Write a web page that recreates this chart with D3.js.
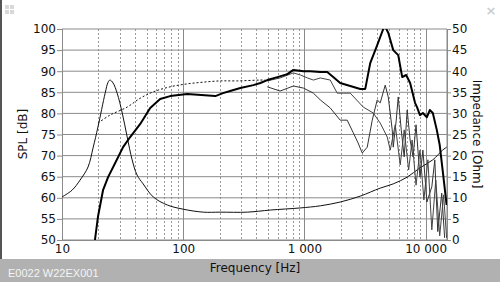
<!DOCTYPE html>
<html>
<head>
<meta charset="utf-8">
<script src="https://cdn.jsdelivr.net/npm/d3@7"></script>
<style>
  html, body { margin: 0; padding: 0; background: #fff; }
  svg { display: block; font-family: "DejaVu Sans", sans-serif; }
</style>
</head>
<body>
<div id="chart"></div>
<script>
// Eixos
const freqTicks = [10, 100, 1000, 10000];
const freqLabels = ["10", "100", "1 000", "10 000"];
const splTicks = [50, 55, 60, 65, 70, 75, 80, 85, 90, 95, 100];
const ohmTicks = [0, 5, 10, 15, 20, 25, 30, 35, 40, 45, 50];

// SPL on-axis (thick)
const onAxisFreq = [18.7, 19.8, 21.8, 24, 27.4, 31.9, 36.5, 44.2, 53.4, 64.5, 78, 108, 184, 213, 244, 296, 379, 433, 494, 598, 723, 811, 981, 1118, 1351, 1542, 1728, 1972, 2387, 2887, 3175, 3489, 3985, 4469, 4640, 4914, 5403, 5939, 6406, 6907, 7445, 8172, 8487, 8975, 9489, 10236, 10825, 11455, 12353, 13061, 13800, 14893];
const onAxisSpl = [50, 55.5, 61.8, 64.9, 68.2, 72, 74.4, 77.5, 81.3, 83.4, 84.1, 84.6, 84.1, 84.8, 85.3, 86, 86.7, 87.2, 87.9, 88.6, 89.3, 90.3, 90, 90, 89.8, 89.8, 88.6, 87.2, 86.5, 85.8, 85.8, 91.9, 96.2, 100, 100.5, 99.1, 95, 93.8, 88.6, 89.1, 87.2, 82.5, 81.5, 79.6, 80.1, 79.1, 80.8, 80.1, 76.1, 72.5, 66.6, 58.3];

// SPL 30 graus
const off30Freq = [494, 630, 811, 926, 1059, 1186, 1351, 1632, 1863, 2087, 2387, 3056, 3694, 4221, 4821, 5103, 5611, 6169, 6652, 7240, 7730, 8330, 8975, 9670, 10430, 11241, 12120, 13061, 14070, 14893];
const off30Spl = [87.7, 88.4, 89.6, 89.1, 88.4, 87.9, 88.4, 87.9, 84.8, 84.8, 84.8, 81.5, 80.1, 77.7, 74.4, 71.3, 77.3, 67.8, 76.1, 66.6, 73.7, 63, 71.3, 59.5, 69, 52.4, 64.2, 51, 60.7, 50.5];

// SPL 60 graus
const off60Freq = [494, 630, 811, 981, 1186, 1351, 1632, 1972, 2252, 2528, 2770, 2999, 3297, 3625, 3985, 4221, 4640, 4914, 5300, 5403, 5720, 5939, 6290, 6652, 7040, 7445, 7873, 8330, 8975, 9489, 10236, 11241, 11897, 12580, 13566, 14342];
const off60Spl = [86.3, 85.3, 86.5, 86, 84.8, 83.2, 81.3, 78.4, 78.4, 75.4, 73, 70.6, 72, 78.4, 83.2, 82.5, 86.7, 83.9, 76.1, 72, 78.4, 83.9, 76.1, 69.7, 80.8, 73.7, 69.7, 77.3, 64.9, 71.3, 59, 62.6, 69, 52, 61.1, 50.5];

// SPL simulado (tracejado)
const simFreq = [19.8, 24.9, 34.5, 44.2, 56.6, 78, 108, 146, 202, 279, 433, 476];
const simSpl = [77.7, 79.6, 81.5, 83.6, 85.1, 86.3, 87, 87.4, 87.7, 87.7, 87.9, 87.9];

// Impedância
const impFreq = [10, 12.1, 14.1, 16.4, 18.1, 19.8, 22.7, 24, 24.9, 26.4, 28.5, 31.4, 34.5, 37.9, 41.6, 46.7, 56.6, 73.8, 100, 146, 202, 337, 523, 926, 1351, 1972, 2887, 4221, 5403, 7040, 8975, 11455, 13800, 14893];
const impOhm = [10.2, 11.8, 14.2, 17.3, 22, 26.8, 34.8, 37.4, 37.9, 37.2, 34.8, 30.1, 24.4, 19, 15.4, 13.3, 10.2, 8.3, 7.3, 6.6, 6.6, 6.6, 7.1, 7.6, 8.1, 9, 10.4, 12.3, 13.3, 14.9, 17.1, 19, 21.3, 22];

// ––––––––––––––––––––––––––––––––––––––––––––––––––––––––––––––

const width = 500, height = 282;
const plot = { left: 62, right: 447, top: 29, bottom: 240 };

const svg = d3.select("#chart").append("svg").attr("width", width).attr("height", height);

const x = d3.scaleLog().domain([10, 15000]).range([plot.left, plot.right]);
const yL = d3.scaleLinear().domain([50, 100]).range([plot.bottom, plot.top]);
const yR = d3.scaleLinear().domain([0, 50]).range([plot.bottom, plot.top]);

// Barra inferior
svg.append("rect").attr("x", 0).attr("y", 259).attr("width", width).attr("height", height - 259).attr("fill", "#b1b1b1");
svg.append("rect").attr("x", 0).attr("y", 0).attr("width", 2).attr("height", 259).attr("fill", "#555");

// Ícones da janela
const icon = svg.append("g").attr("fill", "#d8d8d8");
[[5, 5], [10, 5], [5, 10], [10, 10]].forEach(p => icon.append("rect").attr("x", p[0]).attr("y", p[1]).attr("width", 4).attr("height", 4));
svg.append("text").attr("x", 491).attr("y", 15).attr("text-anchor", "middle").attr("fill", "#ccc")
  .style("font-size", "13px").style("font-weight", "bold").text("×");

// Grelha vertical
const minor = [];
[10, 100, 1000].forEach(d => { for (let k = 2; k <= 9; k++) minor.push(d * k); });
svg.append("g").selectAll("line").data(minor.filter(f => f < 15000)).join("line")
  .attr("x1", d => Math.round(x(d)) + 0.5).attr("x2", d => Math.round(x(d)) + 0.5)
  .attr("y1", plot.top).attr("y2", plot.bottom)
  .attr("stroke", "#9a9a9a").attr("stroke-dasharray", "2,2");
svg.append("g").selectAll("line").data(freqTicks).join("line")
  .attr("x1", d => Math.round(x(d)) + 0.5).attr("x2", d => Math.round(x(d)) + 0.5)
  .attr("y1", plot.top).attr("y2", plot.bottom)
  .attr("stroke", "#8a8a8a");

// Grelha horizontal
svg.append("g").selectAll("line").data(splTicks).join("line")
  .attr("x1", plot.left).attr("x2", plot.right)
  .attr("y1", d => yL(d)).attr("y2", d => yL(d))
  .attr("stroke", "#8a8a8a");
svg.append("line").attr("x1", plot.right).attr("x2", plot.right).attr("y1", plot.top).attr("y2", plot.bottom).attr("stroke", "#8a8a8a");

// Eixos
const axL = svg.append("g").attr("transform", `translate(${plot.left},0)`)
  .call(d3.axisLeft(yL).tickValues(splTicks).tickSize(5).tickPadding(1));
const axR = svg.append("g").attr("transform", `translate(${plot.right},0)`)
  .call(d3.axisRight(yR).tickValues(ohmTicks).tickSize(4).tickPadding(1));
const axB = svg.append("g").attr("transform", `translate(0,${plot.bottom})`)
  .call(d3.axisBottom(x).tickValues(freqTicks).tickFormat((d, i) => freqLabels[i]).tickSize(0).tickPadding(4));
[axL, axR, axB].forEach(a => {
  a.select(".domain").attr("stroke", "#8a8a8a");
  a.selectAll(".tick line").attr("stroke", "#8a8a8a");
  a.selectAll("text").attr("fill", "#111").style("font-family", "DejaVu Sans").style("font-size", "12px");
});

// Títulos
svg.append("text").attr("transform", "translate(27,134) rotate(-90)").attr("text-anchor", "middle")
  .style("font-size", "12px").attr("fill", "#111").text("SPL [dB]");
svg.append("text").attr("transform", "translate(473,134) rotate(90)").attr("text-anchor", "middle")
  .style("font-size", "12px").attr("fill", "#111").text("Impedance [Ohm]");
svg.append("text").attr("x", 255).attr("y", 272).attr("text-anchor", "middle")
  .style("font-size", "12px").attr("fill", "#111").text("Frequency [Hz]");
svg.append("text").attr("x", 8).attr("y", 277).style("font-family", "Liberation Sans").style("font-size", "11px")
  .attr("fill", "#f4f4f4").text("E0022 W22EX001");

// Curvas
svg.append("clipPath").attr("id", "clip").append("rect")
  .attr("x", plot.left).attr("y", plot.top).attr("width", plot.right - plot.left).attr("height", plot.bottom - plot.top);
const curves = svg.append("g").attr("clip-path", "url(#clip)").attr("fill", "none");

const pairs = (fs, vs) => fs.map((f, i) => [f, vs[i]]);
const lineL = d3.line().x(d => x(d[0])).y(d => yL(d[1]));
const lineR = d3.line().x(d => x(d[0])).y(d => yR(d[1])).curve(d3.curveCatmullRom);
const lineSmooth = d3.line().x(d => x(d[0])).y(d => yL(d[1])).curve(d3.curveCatmullRom);

curves.append("path").attr("d", lineR(pairs(impFreq, impOhm))).attr("stroke", "#111").attr("stroke-width", 1);
curves.append("path").attr("d", lineSmooth(pairs(simFreq, simSpl))).attr("stroke", "#111").attr("stroke-width", 1).attr("stroke-dasharray", "2,2");
curves.append("path").attr("d", lineL(pairs(off60Freq, off60Spl))).attr("stroke", "#333").attr("stroke-width", 1);
curves.append("path").attr("d", lineL(pairs(off30Freq, off30Spl))).attr("stroke", "#444").attr("stroke-width", 1);
curves.append("path").attr("d", lineL(pairs(onAxisFreq, onAxisSpl))).attr("stroke", "#000").attr("stroke-width", 2).attr("stroke-linejoin", "round");
</script>
</body>
</html>
